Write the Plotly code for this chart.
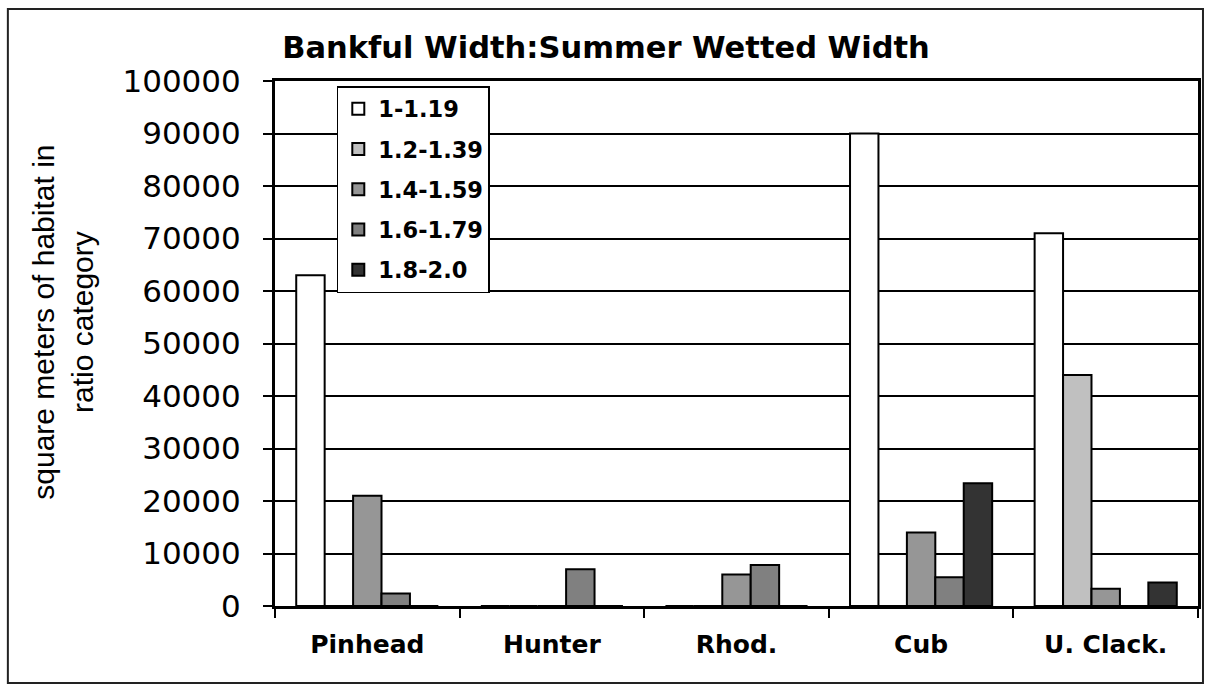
import plotly.graph_objects as go

# Habitat area (m^2) by bankful:wetted width ratio class, per stream reach
reaches = ["Pinhead", "Hunter", "Rhod.", "Cub", "U. Clack."]
ratio_classes = ["1-1.19", "1.2-1.39", "1.4-1.59", "1.6-1.79", "1.8-2.0"]
area_1_0 = [63000, 0, 0, 90000, 71000]
area_1_2 = [0, 0, 0, 0, 44000]
area_1_4 = [21000, 0, 6000, 14000, 3300]
area_1_6 = [2400, 7000, 7800, 5500, 0]
area_1_8 = [0, 0, 0, 23400, 4500]
y_ticks = [0, 10000, 20000, 30000, 40000, 50000, 60000, 70000, 80000, 90000, 100000]

series = [area_1_0, area_1_2, area_1_4, area_1_6, area_1_8]
fills = ["#ffffff", "#c0c0c0", "#969696", "#808080", "#333333"]

W, H = 1208, 685
L, R, T, B = 275, 1201, 81, 606  # plot area in pixels


def px_x(x):
    return (x - L) / (R - L)


def px_y(y):
    return (B - y) / (B - T)


fig = go.Figure()
for name, vals, col in zip(ratio_classes, series, fills):
    fig.add_trace(go.Bar(
        x=reaches, y=vals, name=name, legendgroup=name,
        marker=dict(color=col, line=dict(color="#000000", width=2)),
    ))

fig.update_layout(
    width=W, height=H,
    margin=dict(l=L, r=W - R, t=T, b=H - B, pad=0),
    paper_bgcolor="#ffffff", plot_bgcolor="#ffffff",
    barmode="group", bargap=0.23, bargroupgap=0,
    font=dict(family="DejaVu Sans", color="#000000"),
    title=dict(
        text="<b>Bankful Width:Summer Wetted Width</b>",
        font=dict(family="DejaVu Sans", size=30.5, color="#000000"),
        x=606 / W, xanchor="center", y=1 - 47 / H, yanchor="middle",
    ),
    legend=dict(
        x=px_x(337), y=px_y(86), xanchor="left", yanchor="top",
        bgcolor="#ffffff", bordercolor="#000000", borderwidth=1.5,
        font=dict(family="DejaVu Sans", size=22.5, color="#000000", weight="bold"),
        tracegroupgap=8, traceorder="grouped",
    ),
    showlegend=True,
)

fig.update_yaxes(
    range=[0, 100000], tickvals=y_ticks, tickformat="d",
    showgrid=True, gridcolor="#000000", gridwidth=1.6,
    showline=True, linecolor="#000000", linewidth=3, mirror=True,
    ticks="outside", ticklen=9, tickwidth=2, tickcolor="#000000",
    tickfont=dict(family="DejaVu Sans", size=31, color="#000000"),
    ticklabelstandoff=16, zeroline=False,
)
fig.update_xaxes(
    showgrid=False, showline=True, linecolor="#000000", linewidth=3, mirror=True,
    ticks="outside", tickson="boundaries", ticklen=9, tickwidth=2, tickcolor="#000000",
    tickfont=dict(family="DejaVu Sans", size=25, color="#000000", weight="bold"),
    ticklabelstandoff=14,
)

# rotated two-line axis title
fig.add_annotation(
    text="square meters of habitat in<br>ratio category",
    xref="paper", yref="paper", x=px_x(62), y=px_y(322),
    xanchor="center", yanchor="middle", textangle=-90, showarrow=False,
    font=dict(family="Liberation Sans", size=30, color="#000000"),
)

# chart frame
fig.add_shape(
    type="rect", xref="paper", yref="paper",
    x0=px_x(7), x1=px_x(1206), y0=px_y(683), y1=px_y(9),
    line=dict(color="#222222", width=2), fillcolor="rgba(0,0,0,0)", layer="below",
)

fig.write_html("out.html")
